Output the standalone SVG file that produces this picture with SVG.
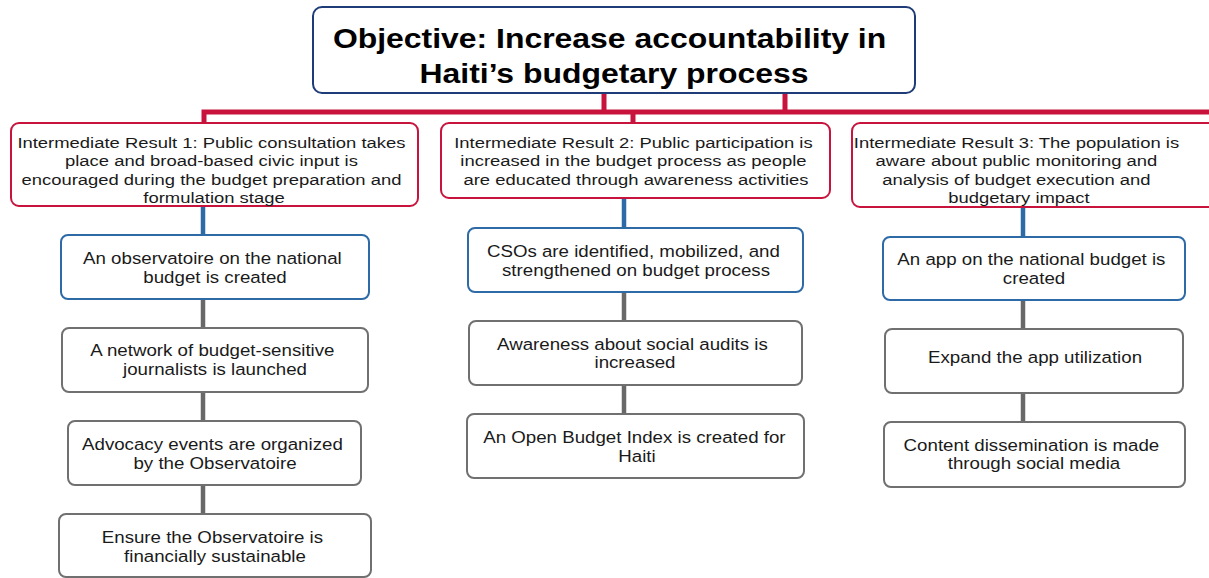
<svg xmlns="http://www.w3.org/2000/svg" width="1209" height="578" viewBox="0 0 1209 578">
  <style>
    .obj { fill: #ffffff; stroke: #1f3c78; stroke-width: 2; }
    .ir { fill: #ffffff; stroke: #c8143c; stroke-width: 2; }
    .act1 { fill: #ffffff; stroke: #2e6aa6; stroke-width: 2; }
    .act { fill: #ffffff; stroke: #707070; stroke-width: 2; }
    .t-obj { font-family: "Liberation Sans", Arial, sans-serif; font-weight: bold; font-size: 28px; fill: #000000; text-anchor: middle; }
    .t-ir { font-family: "Liberation Sans", Arial, sans-serif; font-size: 15.5px; fill: #1a1a1a; text-anchor: middle; }
    .t-act { font-family: "Liberation Sans", Arial, sans-serif; font-size: 17px; fill: #1a1a1a; text-anchor: middle; }
    .c-red { stroke: #c8143c; stroke-width: 5; fill: none; }
    .c-blue { stroke: #2e6aa6; stroke-width: 4.5; fill: none; }
    .c-grey { stroke: #686868; stroke-width: 4.5; fill: none; }
  </style>

  <rect width="1209" height="578" fill="#ffffff"/>

  <!-- connectors -->
  <g id="connectors">
    <path class="c-red" d="M604 93 V112 M785 93 V112 M204 123 V112 H1215 M633 112 V123"/>
    <path class="c-blue" d="M203 206 V234 M624 198 V228 M1023 207 V237"/>
    <path class="c-grey" d="M203 299 V328 M203 392 V421 M203 485 V514"/>
    <path class="c-grey" d="M624 292 V321 M624 385 V414"/>
    <path class="c-grey" d="M1023 300 V329 M1023 393 V422"/>
  </g>

  <!-- objective -->
  <g id="objective">
    <rect class="obj" x="313" y="7" width="602" height="86" rx="9"/>
    <text class="t-obj" transform="translate(614 0) scale(1.14 1)">
      <tspan x="0" y="48">Objective: Increase accountability in</tspan>
      <tspan x="0" y="83">Haiti’s budgetary process</tspan>
    </text>
  </g>

  <!-- intermediate results -->
  <g id="ir1">
    <rect class="ir" x="11" y="123" width="407" height="83" rx="8"/>
    <text class="t-ir" transform="translate(214 0) scale(1.19 1)">
      <tspan x="0" y="148">Intermediate Result 1: Public consultation takes</tspan>
      <tspan x="0" y="166.5">place and broad-based civic input is</tspan>
      <tspan x="0" y="185">encouraged during the budget preparation and</tspan>
      <tspan x="0" y="203.5">formulation stage</tspan>
    </text>
  </g>
  <g id="ir2">
    <rect class="ir" x="441" y="123" width="389" height="75" rx="8"/>
    <text class="t-ir" transform="translate(636 0) scale(1.19 1)">
      <tspan x="0" y="148">Intermediate Result 2: Public participation is</tspan>
      <tspan x="0" y="166.5">increased in the budget process as people</tspan>
      <tspan x="0" y="185">are educated through awareness activities</tspan>
    </text>
  </g>
  <g id="ir3">
    <rect class="ir" x="852" y="123" width="400" height="84" rx="8"/>
    <text class="t-ir" transform="translate(1019 0) scale(1.19 1)">
      <tspan x="0" y="148">Intermediate Result 3: The population is</tspan>
      <tspan x="0" y="166.5">aware about public monitoring and</tspan>
      <tspan x="0" y="185">analysis of budget execution and</tspan>
      <tspan x="0" y="203.5">budgetary impact</tspan>
    </text>
  </g>

  <!-- activities under result 1 -->
  <g id="a1-1">
    <rect class="act1" x="61" y="235" width="308" height="64" rx="7"/>
    <text class="t-act" transform="translate(215 0) scale(1.1 1)">
      <tspan x="0" y="264">An observatoire on the national</tspan>
      <tspan x="0" y="283">budget is created</tspan>
    </text>
  </g>
  <g id="a1-2">
    <rect class="act" x="62" y="328" width="306" height="64" rx="7"/>
    <text class="t-act" transform="translate(215 0) scale(1.1 1)">
      <tspan x="0" y="356">A network of budget-sensitive</tspan>
      <tspan x="0" y="375">journalists is launched</tspan>
    </text>
  </g>
  <g id="a1-3">
    <rect class="act" x="68" y="421" width="293" height="64" rx="7"/>
    <text class="t-act" transform="translate(215 0) scale(1.1 1)">
      <tspan x="0" y="450">Advocacy events are organized</tspan>
      <tspan x="0" y="469">by the Observatoire</tspan>
    </text>
  </g>
  <g id="a1-4">
    <rect class="act" x="59" y="514" width="312" height="63" rx="7"/>
    <text class="t-act" transform="translate(215 0) scale(1.1 1)">
      <tspan x="0" y="543">Ensure the Observatoire is</tspan>
      <tspan x="0" y="562">financially sustainable</tspan>
    </text>
  </g>

  <!-- activities under result 2 -->
  <g id="a2-1">
    <rect class="act1" x="468" y="228" width="335" height="64" rx="7"/>
    <text class="t-act" transform="translate(636 0) scale(1.1 1)">
      <tspan x="0" y="257">CSOs are identified, mobilized, and</tspan>
      <tspan x="0" y="276">strengthened on budget process</tspan>
    </text>
  </g>
  <g id="a2-2">
    <rect class="act" x="469" y="321" width="333" height="64" rx="7"/>
    <text class="t-act" transform="translate(635 0) scale(1.1 1)">
      <tspan x="0" y="350">Awareness about social audits is</tspan>
      <tspan x="0" y="368">increased</tspan>
    </text>
  </g>
  <g id="a2-3">
    <rect class="act" x="467" y="414" width="337" height="64" rx="7"/>
    <text class="t-act" transform="translate(637 0) scale(1.1 1)">
      <tspan x="0" y="443">An Open Budget Index is created for</tspan>
      <tspan x="0" y="462">Haiti</tspan>
    </text>
  </g>

  <!-- activities under result 3 -->
  <g id="a3-1">
    <rect class="act1" x="883" y="237" width="302" height="63" rx="7"/>
    <text class="t-act" transform="translate(1034 0) scale(1.1 1)">
      <tspan x="0" y="265">An app on the national budget is</tspan>
      <tspan x="0" y="284">created</tspan>
    </text>
  </g>
  <g id="a3-2">
    <rect class="act" x="885" y="329" width="298" height="64" rx="7"/>
    <text class="t-act" transform="translate(1035 0) scale(1.1 1)">
      <tspan x="0" y="363">Expand the app utilization</tspan>
    </text>
  </g>
  <g id="a3-3">
    <rect class="act" x="884" y="422" width="301" height="65" rx="7"/>
    <text class="t-act" transform="translate(1034 0) scale(1.1 1)">
      <tspan x="0" y="451">Content dissemination is made</tspan>
      <tspan x="0" y="469">through social media</tspan>
    </text>
  </g>
</svg>
